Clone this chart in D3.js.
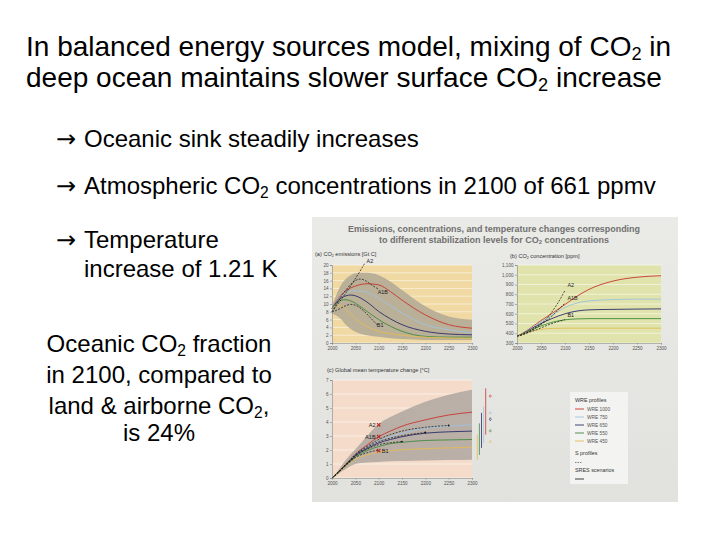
<!DOCTYPE html>
<html>
<head>
<meta charset="utf-8">
<script src="https://cdn.jsdelivr.net/npm/d3@7"></script>
<style>
  body { margin: 0; background: #fff; }
  svg { display: block; }
  text { font-family: "Liberation Sans", Arial, sans-serif; }
</style>
</head>
<body>
<svg id="slide" width="720" height="540"></svg>
<script>
// ---- slide text ----
const titleLines = ["In balanced energy sources model, mixing of CO_2 in",
                    "deep ocean maintains slower surface CO_2 increase"];
const arrowLines = ["Oceanic sink steadily increases",
                    "Atmospheric CO_2 concentrations in 2100 of 661 ppmv",
                    "Temperature"];
const arrowTail = "increase of 1.21 K";
const fractionLines = ["Oceanic CO_2 fraction", "in 2100, compared to",
                       "land & airborne CO_2,", "is 24%"];
const figTitle = ["Emissions, concentrations, and temperature changes corresponding",
                  "to different stabilization levels for CO_2 concentrations"];

// ---- chart data ----
const years = [2000, 2010, 2020, 2030, 2040, 2050, 2075, 2100, 2125, 2150, 2200, 2250, 2300];
const scenYears = [2000, 2010, 2020, 2030, 2040, 2050, 2060, 2070, 2080, 2090, 2100];
const yearTicks = [2000, 2050, 2100, 2150, 2200, 2250, 2300];
const wreNames = ["WRE 1000", "WRE 750", "WRE 650", "WRE 550", "WRE 450"];
const scenNames = ["A2", "A1B", "B1"];

// (a) CO2 emissions [Gt C]
const emisTicks = [0, 2, 4, 6, 8, 10, 12, 14, 16, 18, 20];
const emisWre1000 = [8.8, 10.8, 12.3, 13.4, 14.1, 14.6, 15.2, 14.9, 13.2, 11.0, 7.2, 4.7, 3.8];
const emisWre750  = [8.8, 10.6, 12.0, 12.9, 13.3, 13.4, 13.0, 11.5, 9.6, 7.7, 4.7, 3.4, 2.6];
const emisWre650  = [8.8, 10.5, 11.6, 12.1, 12.3, 12.1, 10.5, 8.1, 6.2, 4.7, 3.0, 2.3, 2.1];
const emisWre550  = [8.8, 10.2, 11.0, 11.1, 10.8, 10.2, 8.1, 6.0, 4.3, 3.0, 1.7, 1.5, 1.5];
const emisWre450  = [8.8, 9.6, 9.5, 8.6, 7.4, 6.2, 4.2, 3.0, 2.4, 2.0, 1.5, 1.3, 1.2];
const emisSresHigh = [9.5, 12.5, 15.0, 16.5, 17.4, 17.9, 18.0, 17.4, 15.8, 13.6, 9.4, 6.8, 6.0];
const emisSresLow  = [7.5, 7.0, 6.0, 4.6, 3.6, 2.9, 2.0, 1.6, 1.2, 1.0, 0.8, 0.8, 0.8];
const emisA2  = [8.0, 9.6, 11.2, 12.9, 14.6, 16.5, 18.4, 20.4, null, null, null];
const emisA1B = [8.0, 10.0, 12.0, 13.6, 15.0, 16.0, 16.4, 16.1, 15.3, 14.5, 13.8];
const emisB1  = [8.0, 8.4, 9.0, 9.6, 9.9, 9.7, 9.0, 8.0, 6.8, 5.5, 4.3];

// (b) CO2 concentration [ppm]
const concTicks = [300, 400, 500, 600, 700, 800, 900, 1000, 1100];
const concWre1000 = [370, 395, 425, 460, 495, 530, 610, 695, 780, 850, 935, 975, 990];
const concWre750  = [370, 393, 420, 452, 485, 515, 590, 665, 710, 732, 745, 750, 750];
const concWre650  = [370, 392, 418, 446, 474, 500, 555, 600, 628, 640, 645, 648, 650];
const concWre550  = [370, 390, 410, 432, 455, 475, 515, 538, 547, 550, 550, 550, 550];
const concWre450  = [370, 388, 405, 420, 432, 440, 450, 452, 452, 452, 452, 452, 452];
const concA2  = [370, 385, 405, 430, 460, 495, 540, 600, 670, 750, 840];
const concA1B = [370, 385, 405, 430, 460, 490, 525, 565, 610, 660, 710];
const concB1  = [370, 383, 400, 418, 435, 455, 475, 495, 510, 525, 540];

// (c) Global mean temperature change [°C]
const tempTicks = [0, 1, 2, 3, 4, 5, 6, 7];
const tempWre1000 = [0, 0.3, 0.65, 1.0, 1.35, 1.7, 2.35, 2.95, 3.35, 3.7, 4.15, 4.5, 4.7];
const tempWre750  = [0, 0.3, 0.63, 0.97, 1.3, 1.65, 2.2, 2.65, 2.95, 3.2, 3.55, 3.7, 3.8];
const tempWre650  = [0, 0.3, 0.62, 0.95, 1.27, 1.6, 2.1, 2.5, 2.75, 2.95, 3.2, 3.3, 3.35];
const tempWre550  = [0, 0.3, 0.6, 0.92, 1.22, 1.5, 1.95, 2.25, 2.45, 2.55, 2.68, 2.72, 2.75];
const tempWre450  = [0, 0.28, 0.57, 0.87, 1.12, 1.35, 1.65, 1.85, 1.95, 2.02, 2.1, 2.15, 2.2];
const tempSresHigh = [0, 0.4, 0.85, 1.3, 1.7, 2.05, 3.0, 3.85, 4.35, 4.75, 5.45, 5.95, 6.3];
const tempSresLow  = [0, 0.2, 0.45, 0.65, 0.85, 1.0, 1.1, 1.15, 1.2, 1.22, 1.25, 1.28, 1.3];
const tempS750 = [0, 0.3, 0.64, 0.99, 1.33, 1.68, 2.25, 2.75, 3.1, 3.35, 3.62, 3.75, null];
const tempS650 = [0, 0.3, 0.63, 0.97, 1.3, 1.64, 2.18, 2.6, 2.85, 3.02, 3.25, null, null];
const tempS550 = [0, 0.29, 0.61, 0.94, 1.25, 1.56, 2.05, 2.38, 2.52, 2.6, null, null, null];
const tempS450 = [0, 0.28, 0.58, 0.9, 1.18, 1.45, 1.8, 2.0, null, null, null, null, null];
const tempScen2100 = [3.8, 2.95, 1.95];
const eqLow  = [3.1, 2.5, 2.15, 1.65, 1.3];
const eqHigh = [6.4, 5.1, 4.65, 3.9, 3.1];
const eqBest = [5.85, 4.65, 4.2, 3.37, 2.6];

// ---- styles ----
const wreColors = ["#c8352f", "#9fc3df", "#2b2d6b", "#3f8a3c", "#e3bb55"];
const FONT = '"Liberation Sans", Arial, sans-serif';

const svg = d3.select('#slide');

function richText(parent, str, x, y, size, opts = {}) {
  const t = parent.append('text')
    .attr('x', x).attr('y', y)
    .attr('font-size', size)
    .attr('text-anchor', opts.anchor || 'start')
    .attr('fill', opts.fill || '#000');
  if (opts.weight) t.attr('font-weight', opts.weight);
  if (opts.width) t.attr('textLength', opts.width).attr('lengthAdjust', 'spacingAndGlyphs');
  const shift = size * (opts.shift || 0.18);
  let low = false;
  str.split(/_(\d)/).forEach((part, i) => {
    if (!part) return;
    const ts = t.append('tspan').text(part);
    if (i % 2 === 1) {
      ts.attr('font-size', size * 0.65).attr('dy', shift);
      low = true;
    } else if (low) {
      ts.attr('dy', -shift);
      low = false;
    }
  });
  return t;
}

// slide texts
titleLines.forEach((l, i) => richText(svg, l, 26, 56 + i * 31, 28, { shift: 0.13 }));
arrowLines.forEach((l, i) => {
  const y = [147, 194, 248][i];
  svg.append('text').attr('x', 56).attr('y', y).attr('font-size', 24)
    .style('font-family', '"DejaVu Sans", sans-serif').text('\u2192');
  richText(svg, l, 84, y, 24);
});
richText(svg, arrowTail, 84, 277, 24);
[352, 383, 414, 441].forEach((y, i) => richText(svg, fractionLines[i], 159, y, 24, { anchor: 'middle' }));

// ---- the figure (photo) ----
const fig = svg.append('g');
const grad = svg.append('defs').append('linearGradient')
  .attr('id', 'figbg').attr('x1', 0).attr('y1', 0).attr('x2', 0).attr('y2', 1);
grad.append('stop').attr('offset', 0).attr('stop-color', '#eaeae7');
grad.append('stop').attr('offset', 1).attr('stop-color', '#e1e1de');
fig.append('rect').attr('x', 312).attr('y', 217).attr('width', 366).attr('height', 285)
  .attr('fill', 'url(#figbg)');

richText(fig, figTitle[0], 494, 232, 8.6, { anchor: 'middle', weight: 'bold', fill: '#707070', width: 292 });
richText(fig, figTitle[1], 494, 242.5, 8.6, { anchor: 'middle', weight: 'bold', fill: '#707070', width: 230 });

function drawPanel(p) {
  const g = fig.append('g');
  const [x0, x1] = p.x.range();
  const [y0, y1] = p.y.range();
  g.append('rect').attr('x', x0).attr('y', y1).attr('width', x1 - x0).attr('height', y0 - y1)
    .attr('fill', p.bg);
  g.append('g').selectAll('line').data(p.ticks).join('line')
    .attr('x1', x0).attr('x2', x1)
    .attr('y1', d => p.y(d)).attr('y2', d => p.y(d))
    .attr('stroke', '#fff').attr('stroke-opacity', 0.75).attr('stroke-width', 0.7);

  if (p.high) {
    g.append('path')
      .datum(years.map((yr, i) => [yr, p.low[i], p.high[i]]))
      .attr('fill', p.env).attr('opacity', 0.9)
      .attr('d', d3.area().curve(d3.curveMonotoneX)
        .x(d => p.x(d[0])).y0(d => p.y(d[1])).y1(d => p.y(d[2])));
  }

  const line = d3.line().curve(d3.curveMonotoneX)
    .defined(d => d[1] != null)
    .x(d => p.x(d[0])).y(d => p.y(d[1]));

  p.wre.forEach((vals, k) => {
    g.append('path').datum(years.map((yr, i) => [yr, vals[i]]))
      .attr('fill', 'none').attr('stroke', wreColors[k]).attr('stroke-width', 0.9)
      .attr('d', line);
  });

  (p.dashed || []).forEach(({ xs, vals }) => {
    g.append('path').datum(xs.map((yr, i) => [yr, vals[i]]))
      .attr('fill', 'none').attr('stroke', '#111').attr('stroke-width', 0.7)
      .attr('stroke-dasharray', '2,1.3').attr('d', line);
  });

  const ya = g.append('g').attr('transform', `translate(${x0},0)`)
    .call(d3.axisLeft(p.y).tickValues(p.ticks).tickSize(2).tickPadding(1.5).tickFormat(p.fmt || d3.format('d')));
  const xa = g.append('g').attr('transform', `translate(0,${y0})`)
    .call(d3.axisBottom(p.x).tickValues(yearTicks).tickSize(1.5).tickPadding(2).tickFormat(d3.format('d')));
  [ya, xa].forEach(a => {
    a.attr('font-size', 4.6).attr('font-family', FONT);
    a.select('.domain').attr('stroke', '#777').attr('stroke-width', 0.5);
    a.selectAll('.tick line').attr('stroke', '#777').attr('stroke-width', 0.5);
    a.selectAll('.tick text').attr('fill', '#555');
  });

  richText(g, p.label, x0 + p.labelDx, y1 - p.labelDy, 5.6, { fill: '#333' });
  return g;
}

// (a)
const xA = d3.scaleLinear([2000, 2300], [332, 472]);
const yA = d3.scaleLinear([0, 20], [343, 265]);
const gA = drawPanel({
  x: xA, y: yA, ticks: emisTicks, bg: '#f0d9a3', env: '#b4aa96',
  high: emisSresHigh, low: emisSresLow,
  wre: [emisWre1000, emisWre750, emisWre650, emisWre550, emisWre450],
  dashed: [{ xs: scenYears, vals: emisA2 }, { xs: scenYears, vals: emisA1B }, { xs: scenYears, vals: emisB1 }],
  label: '(a) CO_2 emissions [Gt C]', labelDx: -17, labelDy: 9
});
[[2074, 20.6], [2098, 12.6], [2096, 4.0]].forEach(([yr, v], i) => {
  gA.append('text').attr('x', xA(yr)).attr('y', yA(v)).attr('font-size', 5.4)
    .attr('fill', '#222').text(scenNames[i]);
});

// (b)
const xB = d3.scaleLinear([2000, 2300], [517, 661]);
const yB = d3.scaleLinear([300, 1100], [343, 265]);
const gB = drawPanel({
  x: xB, y: yB, ticks: concTicks, bg: '#e0e4ac', fmt: d3.format(','),
  wre: [concWre1000, concWre750, concWre650, concWre550, concWre450],
  dashed: [{ xs: scenYears, vals: concA2 }, { xs: scenYears, vals: concA1B }, { xs: scenYears, vals: concB1 }],
  label: '(b) CO_2 concentration [ppm]', labelDx: -7, labelDy: 7
});
[[2105, 870], [2105, 740], [2105, 565]].forEach(([yr, v], i) => {
  gB.append('text').attr('x', xB(yr)).attr('y', yB(v)).attr('font-size', 5.4)
    .attr('fill', '#222').text(scenNames[i]);
});

// (c)
const xC = d3.scaleLinear([2000, 2300], [332, 472]);
const yC = d3.scaleLinear([0, 7], [478, 380]);
const gC = drawPanel({
  x: xC, y: yC, ticks: tempTicks, bg: '#f5dcca', env: '#b3aaa2',
  high: tempSresHigh, low: tempSresLow,
  wre: [tempWre1000, tempWre750, tempWre650, tempWre550, tempWre450],
  dashed: [{ xs: years, vals: tempS750 }, { xs: years, vals: tempS650 },
           { xs: years, vals: tempS550 }, { xs: years, vals: tempS450 }],
  label: '(c) Global mean temperature change [°C]', labelDx: -5, labelDy: 8
});
// S-profile stabilisation dots
[tempS750, tempS650, tempS550].forEach(vals => {
  let i = vals.length - 1;
  while (vals[i] == null) i--;
  gC.append('circle').attr('cx', xC(years[i])).attr('cy', yC(vals[i])).attr('r', 0.9).attr('fill', '#111');
});
// SRES 2100 markers
tempScen2100.forEach((v, i) => {
  gC.append('path').attr('transform', `translate(${xC(2100)},${yC(v)})`)
    .attr('d', d3.symbol(d3.symbolTimes, 9)()).attr('stroke', '#c0282a').attr('stroke-width', 1.1);
  gC.append('text').attr('x', i < 2 ? xC(2100) - 3 : xC(2100) + 3).attr('y', yC(v) + 2)
    .attr('text-anchor', i < 2 ? 'end' : 'start').attr('font-size', 5.6).attr('fill', '#222')
    .text(scenNames[i]);
});
// equilibrium ranges
const eqX = d3.scaleLinear([0, 4], [485.7, 477.3]);
eqLow.forEach((lo, k) => {
  gC.append('line').attr('x1', eqX(k)).attr('x2', eqX(k))
    .attr('y1', yC(lo)).attr('y2', yC(eqHigh[k]))
    .attr('stroke', wreColors[k]).attr('stroke-width', 0.8);
  gC.append('path').attr('transform', `translate(490.3,${yC(eqBest[k])})`)
    .attr('d', d3.symbol(k === 2 ? d3.symbolDiamond : d3.symbolCircle, 3)())
    .attr('fill', 'none').attr('stroke', wreColors[k]).attr('stroke-width', 0.6);
});

// legend
const lg = fig.append('g').attr('transform', 'translate(570,392)');
lg.append('rect').attr('width', 58).attr('height', 92).attr('fill', '#f3f3f1');
lg.append('text').attr('x', 5).attr('y', 10).attr('font-size', 5.4).attr('fill', '#333').text('WRE profiles');
wreNames.forEach((n, k) => {
  const yy = 17 + k * 8;
  lg.append('line').attr('x1', 5).attr('x2', 14).attr('y1', yy).attr('y2', yy)
    .attr('stroke', wreColors[k]).attr('stroke-width', 0.9);
  lg.append('text').attr('x', 17).attr('y', yy + 1.8).attr('font-size', 4.8).attr('fill', '#555').text(n);
});
lg.append('text').attr('x', 5).attr('y', 63).attr('font-size', 5.4).attr('fill', '#333').text('S profiles');
lg.append('line').attr('x1', 5).attr('x2', 12).attr('y1', 70.5).attr('y2', 70.5)
  .attr('stroke', '#333').attr('stroke-width', 0.6).attr('stroke-dasharray', '1.5,1');
lg.append('text').attr('x', 5).attr('y', 80).attr('font-size', 5.4).attr('fill', '#333').text('SRES scenarios');
lg.append('rect').attr('x', 5).attr('y', 86).attr('width', 9).attr('height', 2).attr('fill', '#999');
</script>
</body>
</html>
